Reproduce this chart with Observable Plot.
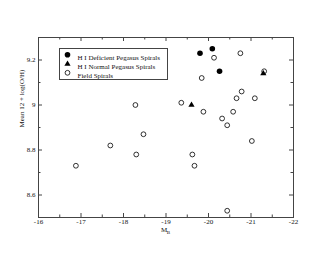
<!DOCTYPE html>
<html>
<head>
<meta charset="utf-8">
<script src="https://cdn.jsdelivr.net/npm/d3@7"></script>
<script src="https://cdn.jsdelivr.net/npm/@observablehq/plot@0.6"></script>
<style>
  html, body { margin: 0; padding: 0; background: #fff; }
</style>
</head>
<body>
<div id="chart"></div>
<script>
// Data
const deficientMB = [-19.80, -20.09, -20.26];
const deficientOH = [9.23, 9.25, 9.15];
const normalMB = [-21.29, -19.60];
const normalOH = [9.14, 9.00];
const fieldMB = [-20.13, -20.75, -21.31, -19.84, -20.78, -20.66, -21.09, -19.36, -19.88, -20.58, -20.32, -20.44, -18.28, -18.47, -21.02, -17.69, -18.30, -19.62, -19.67, -16.88, -20.44];
const fieldOH = [9.21, 9.23, 9.15, 9.12, 9.06, 9.03, 9.03, 9.01, 8.97, 8.97, 8.94, 8.91, 9.00, 8.87, 8.84, 8.82, 8.78, 8.78, 8.73, 8.73, 8.53];

const xTicks = [-16, -17, -18, -19, -20, -21, -22];
const xMinorTicks = [-16.5, -17.5, -18.5, -19.5, -20.5, -21.5];
const yTicks = [8.6, 8.8, 9, 9.2];
const yMinorTicks = [8.7, 8.9, 9.1];
const legendLabels = ["H I Deficient Pegasus Spirals", "H I Normal Pegasus Spirals", "Field Spirals"];
const xLabel = "M";
const xLabelSub = "B";
const yLabel = "Mean 12 + log(O/H)";

const deficient = deficientMB.map((x, i) => ({x, y: deficientOH[i]}));
const normal = normalMB.map((x, i) => ({x, y: normalOH[i]}));
const field = fieldMB.map((x, i) => ({x, y: fieldOH[i]}));

const W = 330, H = 255, mL = 38, mR = 37, mT = 37, mB = 38;
const iW = W - mL - mR, iH = H - mT - mB;
const maj = 4, mnr = 2.5;
const ink = "#444";
const triR = 2.3;

const chart = Plot.plot({
  width: W, height: H,
  marginLeft: mL, marginRight: mR, marginTop: mT, marginBottom: mB,
  style: {fontFamily: "'Liberation Serif', serif", fontSize: "7px", color: "#111", background: "#fff"},
  x: {domain: [-16, -22], axis: null},
  y: {domain: [8.5, 9.3], axis: null},
  marks: [
    Plot.frame({stroke: ink}),
    // inward ticks, all four sides
    Plot.ruleX(xTicks, {x: d => d, insetTop: iH - maj, stroke: ink}),
    Plot.ruleX(xTicks, {x: d => d, insetBottom: iH - maj, stroke: ink}),
    Plot.ruleX(xMinorTicks, {x: d => d, insetTop: iH - mnr, stroke: ink}),
    Plot.ruleX(xMinorTicks, {x: d => d, insetBottom: iH - mnr, stroke: ink}),
    Plot.ruleY(yTicks, {y: d => d, insetRight: iW - maj, stroke: ink}),
    Plot.ruleY(yTicks, {y: d => d, insetLeft: iW - maj, stroke: ink}),
    Plot.ruleY(yMinorTicks, {y: d => d, insetRight: iW - mnr, stroke: ink}),
    Plot.ruleY(yMinorTicks, {y: d => d, insetLeft: iW - mnr, stroke: ink}),
    Plot.axisX(xTicks, {tickSize: 0, tickPadding: 2, tickFormat: d => `${d}`, fontSize: 7, label: null}),
    Plot.axisY(yTicks, {tickSize: 0, tickPadding: 3, tickFormat: d => `${d}`, fontSize: 7, label: null}),
    Plot.text([xLabel], {frameAnchor: "bottom", dy: 14, dx: -2, fontSize: 7}),
    Plot.text([xLabelSub], {frameAnchor: "bottom", dy: 16.5, dx: 2.5, fontSize: 5}),
    Plot.text([yLabel], {frameAnchor: "left", rotate: -90, dx: -17, fontSize: 7}),
    // data
    Plot.dot(field, {x: "x", y: "y", r: 2.4, stroke: "#000", strokeWidth: 0.8, fill: "none"}),
    Plot.dot(deficient, {x: "x", y: "y", r: 2.8, fill: "#000", stroke: "none"}),
    Plot.dot(normal, {x: "x", y: "y", r: triR, symbol: "triangle", fill: "#000", stroke: "none"}),
    // legend
    Plot.frame({insetLeft: 21, insetTop: 11, insetRight: 126, insetBottom: 138, stroke: ink}),
    Plot.dot([0], {frameAnchor: "top-left", dx: 29, dy: 17.3, r: 2.8, fill: "#000", stroke: "none"}),
    Plot.dot([0], {frameAnchor: "top-left", dx: 29, dy: 26.5, r: triR, symbol: "triangle", fill: "#000", stroke: "none"}),
    Plot.dot([0], {frameAnchor: "top-left", dx: 29, dy: 35.3, r: 2.4, stroke: "#000", strokeWidth: 0.8, fill: "none"}),
    ...legendLabels.map((t, i) => Plot.text([t], {frameAnchor: "top-left", dx: 39, dy: [17.3, 26.5, 35.3][i], textAnchor: "start", fontSize: 7}))
  ]
});
document.getElementById("chart").appendChild(chart);
</script>
</body>
</html>
